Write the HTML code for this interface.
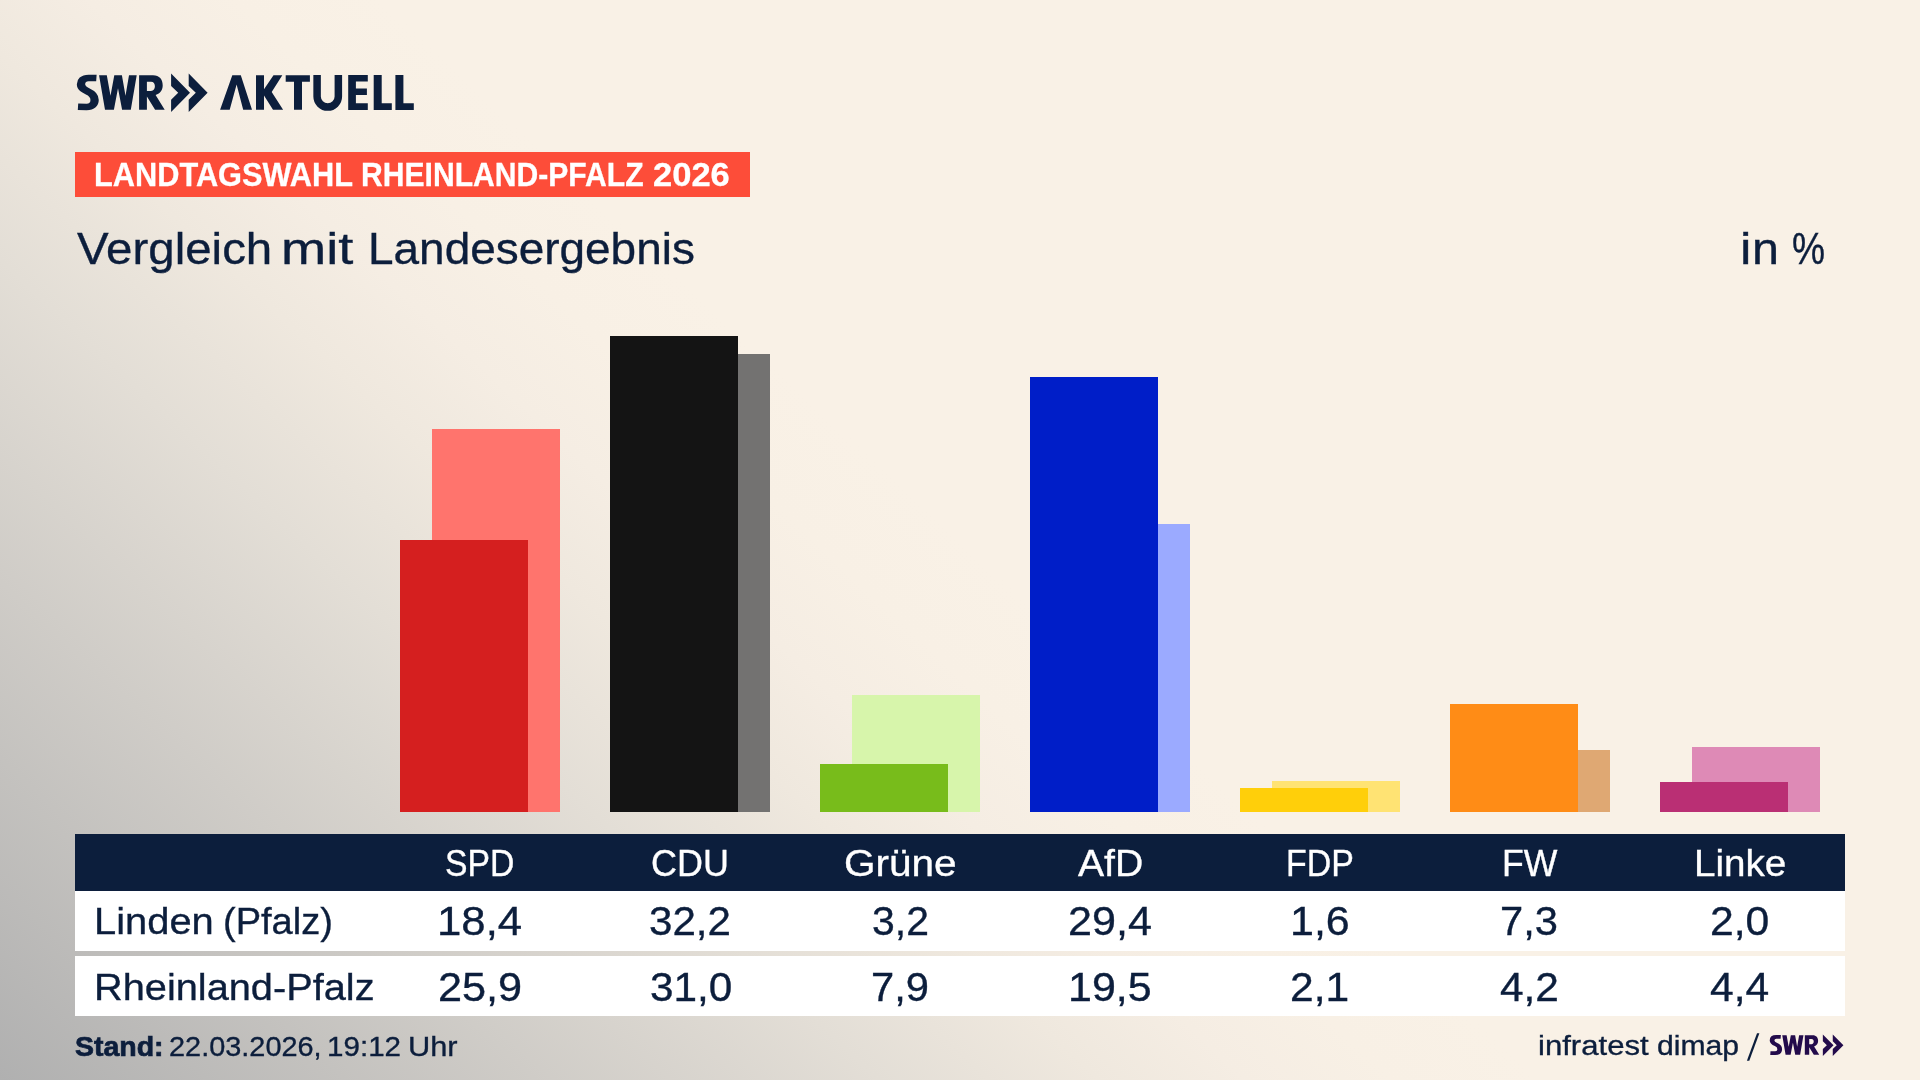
<!DOCTYPE html>
<html lang="de">
<head>
<meta charset="utf-8">
<title>Landtagswahl Rheinland-Pfalz 2026 – Vergleich mit Landesergebnis</title>
<style>
html,body{margin:0;padding:0}
body{width:1920px;height:1080px;overflow:hidden;position:relative;font-family:"Liberation Sans",sans-serif;color:#0c1e3c;background:#f9f1e6}
#bg{position:absolute;left:0;top:0;width:1920px;height:1080px;
  background:linear-gradient(43deg,#b0b0b0 0px,#e3ded6 600px,#efe8de 750px,#f5ede3 850px,#f8f0e5 950px,#f9f1e6 1050px)}
.t{position:absolute;white-space:nowrap;line-height:1;transform-origin:0 0;-webkit-text-stroke:0.35px currentColor}
#txt{position:absolute;left:0;top:0;width:1920px;height:1080px;will-change:transform}
.w{color:#fff}
.b{font-weight:bold;-webkit-text-stroke:0.3px currentColor}
.bar{position:absolute}
/* banner */
#banner{position:absolute;left:75px;top:152px;width:675px;height:45px;background:#fd4d39}
/* table */
#thead{position:absolute;left:75px;top:834px;width:1770px;height:57px;background:#0c1e3c}
#row1{position:absolute;left:75px;top:891px;width:1770px;height:60px;background:#fff}
#row2{position:absolute;left:75px;top:956px;width:1770px;height:60px;background:#fff}
</style>
</head>
<body>
<div id="bg"></div>

<!-- logo -->
<svg id="logo" style="position:absolute;left:0;top:0" width="1920" height="1080" viewBox="0 0 1920 1080">
  <g id="swr" fill="#0c1e3c" color="#0c1e3c">
    <g transform="translate(0,92.5) scale(1,0.783) translate(0,-92.5)"><path d="M96.4 74.11 C94 73.98 91.5 73.85 88.6 73.85 C83.4 73.85 81.0 77.3 81.0 82.03 C81.0 87.14 84.3 89.18 88 91.35 C92.0 93.65 94.6 96.08 94.6 101.95 C94.6 107.57 91.8 110.89 86.6 110.89 C83.6 110.89 80.6 110.89 78 110.76" fill="none" stroke="currentColor" stroke-width="8.3"/></g>
    <path d="M99.06 75.3 H106.8 L110.5 95.7 L114.3 75.3 H121.9 L125.5 95.7 L129 75.3 H136.7 L130.8 109.7 H122.1 L118 88.3 L113.9 109.7 H105 Z"/>
    <path fill-rule="evenodd" d="M139.1 75.3 H153 C159.5 75.3 162.7 79.5 162.7 85.3 C162.7 89.8 160.4 93.4 155.6 95.1 L164.7 109.8 H155.1 L146.9 96.4 V109.8 H139.1 Z M146.9 81.8 V90.9 H151 C153.6 90.9 154.9 89 154.9 86.3 C154.9 83.6 153.6 81.8 151 81.8 Z"/>
    <path d="M171.1 73.6 L190.0 92.8 L171.1 112.0 V99.7 L178.2 92.8 L171.1 85.9 Z"/>
    <path d="M188.7 73.6 L207.6 92.8 L188.7 112.0 V99.7 L195.8 92.8 L188.7 85.9 Z"/>
  </g>
  <g id="aktuell" fill="#0c1e3c">
    <path d="M220.1 109.7 L232.3 75.2 H240.8 L252 109.7 H243.2 L236.6 84.5 L229.7 109.7 Z"/>
    <path d="M256 75.2 H264 V89.3 L273.5 75.2 H282.3 L271.7 91.9 L283.1 109.7 H273 L264 95.6 V109.7 H256 Z"/>
    <path d="M285.7 75.2 H309.9 V81.8 H302 V109.7 H294 V81.8 H285.7 Z"/>
    <path d="M317.1 75.1 V96.5 A10.62 10.62 0 0 0 338.35 96.5 V75.1" fill="none" stroke="#0c1e3c" stroke-width="7.5"/>
    <path d="M348.2 75.1 H367.8 V81.4 H355.9 V88.5 H366.9 V95 H355.9 V103.3 H367.8 V109.9 H348.2 Z"/>
    <path d="M373.7 75.1 H381.7 V103.3 H391.8 V109.9 H373.7 Z"/>
    <path d="M395.4 75.1 H403.4 V103.3 H413.8 V109.9 H395.4 Z"/>
  </g>
  <path d="M1746.9 1060.7 H1749.3 L1759.4 1033.2 H1757 Z" fill="#0c1e3c"/>
  <g id="swr2" fill="#230b4b" color="#230b4b" transform="translate(1769.75,1035) scale(0.5637) translate(-76.9,-74.7)">
    <g transform="translate(0,92.5) scale(1,0.783) translate(0,-92.5)"><path d="M96.4 74.11 C94 73.98 91.5 73.85 88.6 73.85 C83.4 73.85 81.0 77.3 81.0 82.03 C81.0 87.14 84.3 89.18 88 91.35 C92.0 93.65 94.6 96.08 94.6 101.95 C94.6 107.57 91.8 110.89 86.6 110.89 C83.6 110.89 80.6 110.89 78 110.76" fill="none" stroke="currentColor" stroke-width="8.3"/></g>
    <path d="M99.06 75.3 H106.8 L110.5 95.7 L114.3 75.3 H121.9 L125.5 95.7 L129 75.3 H136.7 L130.8 109.7 H122.1 L118 88.3 L113.9 109.7 H105 Z"/>
    <path fill-rule="evenodd" d="M139.1 75.3 H153 C159.5 75.3 162.7 79.5 162.7 85.3 C162.7 89.8 160.4 93.4 155.6 95.1 L164.7 109.8 H155.1 L146.9 96.4 V109.8 H139.1 Z M146.9 81.8 V90.9 H151 C153.6 90.9 154.9 89 154.9 86.3 C154.9 83.6 153.6 81.8 151 81.8 Z"/>
    <path d="M171.1 73.6 L190.0 92.8 L171.1 112.0 V99.7 L178.2 92.8 L171.1 85.9 Z"/>
    <path d="M188.7 73.6 L207.6 92.8 L188.7 112.0 V99.7 L195.8 92.8 L188.7 85.9 Z"/>
  </g>
</svg>

<div id="banner"></div>
<!-- bars: back (state) then front (local) -->
<div class="bar" style="left:432px;top:429px;width:128px;height:383px;background:#ff746d"></div>
<div class="bar" style="left:400px;top:540px;width:128px;height:272px;background:#d51f1f"></div>

<div class="bar" style="left:642px;top:354px;width:128px;height:458px;background:#737271"></div>
<div class="bar" style="left:610px;top:336px;width:128px;height:476px;background:#141414"></div>

<div class="bar" style="left:852px;top:695px;width:128px;height:117px;background:#d7f5ab"></div>
<div class="bar" style="left:820px;top:764px;width:128px;height:48px;background:#78bc1b"></div>

<div class="bar" style="left:1062px;top:524px;width:128px;height:288px;background:#9baaff"></div>
<div class="bar" style="left:1030px;top:377px;width:128px;height:435px;background:#001ec8"></div>

<div class="bar" style="left:1272px;top:781px;width:128px;height:31px;background:#ffe373"></div>
<div class="bar" style="left:1240px;top:788px;width:128px;height:24px;background:#ffcf0a"></div>

<div class="bar" style="left:1482px;top:750px;width:128px;height:62px;background:#dfa873"></div>
<div class="bar" style="left:1450px;top:704px;width:128px;height:108px;background:#ff8c16"></div>

<div class="bar" style="left:1692px;top:747px;width:128px;height:65px;background:#de8ab6"></div>
<div class="bar" style="left:1660px;top:782px;width:128px;height:30px;background:#ba2f74"></div>

<!-- table -->
<div id="thead"></div>
<div id="row1"></div>
<div id="row2"></div>

<div id="txt">
<div class="t w b" style="left:93.64px;top:158px;font-size:33px;transform:scaleX(0.9316)">LANDTAGSWAHL</div>
<div class="t w b" style="left:361.18px;top:158px;font-size:33px;transform:scaleX(0.9121)">RHEINLAND-PFALZ</div>
<div class="t w b" style="left:652.95px;top:158px;font-size:33px;transform:scaleX(1.0465)">2026</div>
<div class="t" style="left:76.70px;top:227px;font-size:44.5px;transform:scaleX(1.0667)">Vergleich</div>
<div class="t" style="left:281.34px;top:227px;font-size:44.5px;transform:scaleX(1.2196)">mit</div>
<div class="t" style="left:367.90px;top:227px;font-size:44.5px;transform:scaleX(1.0321)">Landesergebnis</div>
<div class="t" style="left:1739.55px;top:227px;font-size:44.5px;transform:scaleX(1.1500)">i</div>
<div class="t" style="left:1752.33px;top:227px;font-size:44.5px;transform:scaleX(1.0895)">n</div>
<div class="t" style="left:1792.46px;top:227px;font-size:44.5px;transform:scaleX(0.8351)">%</div>
<div class="t w" style="left:445.38px;top:845px;font-size:37px;transform:scaleX(0.9111)">SPD</div>
<div class="t w" style="left:650.56px;top:845px;font-size:37px;transform:scaleX(0.9711)">CDU</div>
<div class="t w" style="left:843.61px;top:845px;font-size:37px;transform:scaleX(1.0949)">Grüne</div>
<div class="t w" style="left:1077.80px;top:845px;font-size:37px;transform:scaleX(1.0583)">AfD</div>
<div class="t w" style="left:1286.45px;top:845px;font-size:37px;transform:scaleX(0.9174)">FDP</div>
<div class="t w" style="left:1502.11px;top:845px;font-size:37px;transform:scaleX(0.9630)">FW</div>
<div class="t w" style="left:1693.67px;top:845px;font-size:37px;transform:scaleX(1.0440)">Linke</div>
<div class="t" style="left:93.81px;top:903px;font-size:37.5px;transform:scaleX(1.0636)">Linden</div>
<div class="t" style="left:222.77px;top:903px;font-size:37.5px;transform:scaleX(1.0144)">(Pfalz)</div>
<div class="t" style="left:93.82px;top:969px;font-size:37.5px;transform:scaleX(1.0596)">Rheinland-Pfalz</div>
<div class="t" style="left:437.02px;top:901px;font-size:40px;transform:scaleX(1.0932)">18,4</div>
<div class="t" style="left:649.19px;top:901px;font-size:40px;transform:scaleX(1.0527)">32,2</div>
<div class="t" style="left:871.75px;top:901px;font-size:40px;transform:scaleX(1.0231)">3,2</div>
<div class="t" style="left:1067.85px;top:901px;font-size:40px;transform:scaleX(1.0773)">29,4</div>
<div class="t" style="left:1289.78px;top:901px;font-size:40px;transform:scaleX(1.0745)">1,6</div>
<div class="t" style="left:1500.42px;top:901px;font-size:40px;transform:scaleX(1.0423)">7,3</div>
<div class="t" style="left:1709.87px;top:901px;font-size:40px;transform:scaleX(1.0673)">2,0</div>
<div class="t" style="left:437.84px;top:967px;font-size:40px;transform:scaleX(1.0811)">25,9</div>
<div class="t" style="left:649.58px;top:967px;font-size:40px;transform:scaleX(1.0581)">31,0</div>
<div class="t" style="left:870.72px;top:967px;font-size:40px;transform:scaleX(1.0423)">7,9</div>
<div class="t" style="left:1067.58px;top:967px;font-size:40px;transform:scaleX(1.0740)">19,5</div>
<div class="t" style="left:1290.37px;top:967px;font-size:40px;transform:scaleX(1.0635)">2,1</div>
<div class="t" style="left:1499.74px;top:967px;font-size:40px;transform:scaleX(1.0604)">4,2</div>
<div class="t" style="left:1710.14px;top:967px;font-size:40px;transform:scaleX(1.0648)">4,4</div>
<div class="t b" style="left:75.23px;top:1033px;font-size:28px;transform:scaleX(1.0173);-webkit-text-stroke-width:0.7px">Stand:</div>
<div class="t" style="left:168.97px;top:1033px;font-size:28px;transform:scaleX(1.0317)">22.03.2026,</div>
<div class="t" style="left:327.29px;top:1033px;font-size:28px;transform:scaleX(1.0567)">19:12</div>
<div class="t" style="left:408.40px;top:1033px;font-size:28px;transform:scaleX(1.1000)">Uhr</div>
<div class="t" style="left:1537.54px;top:1032px;font-size:27.5px;transform:scaleX(1.1313)">infratest</div>
<div class="t" style="left:1656.70px;top:1032px;font-size:27.5px;transform:scaleX(1.0959)">dimap</div>
</div>
</body>
</html>
